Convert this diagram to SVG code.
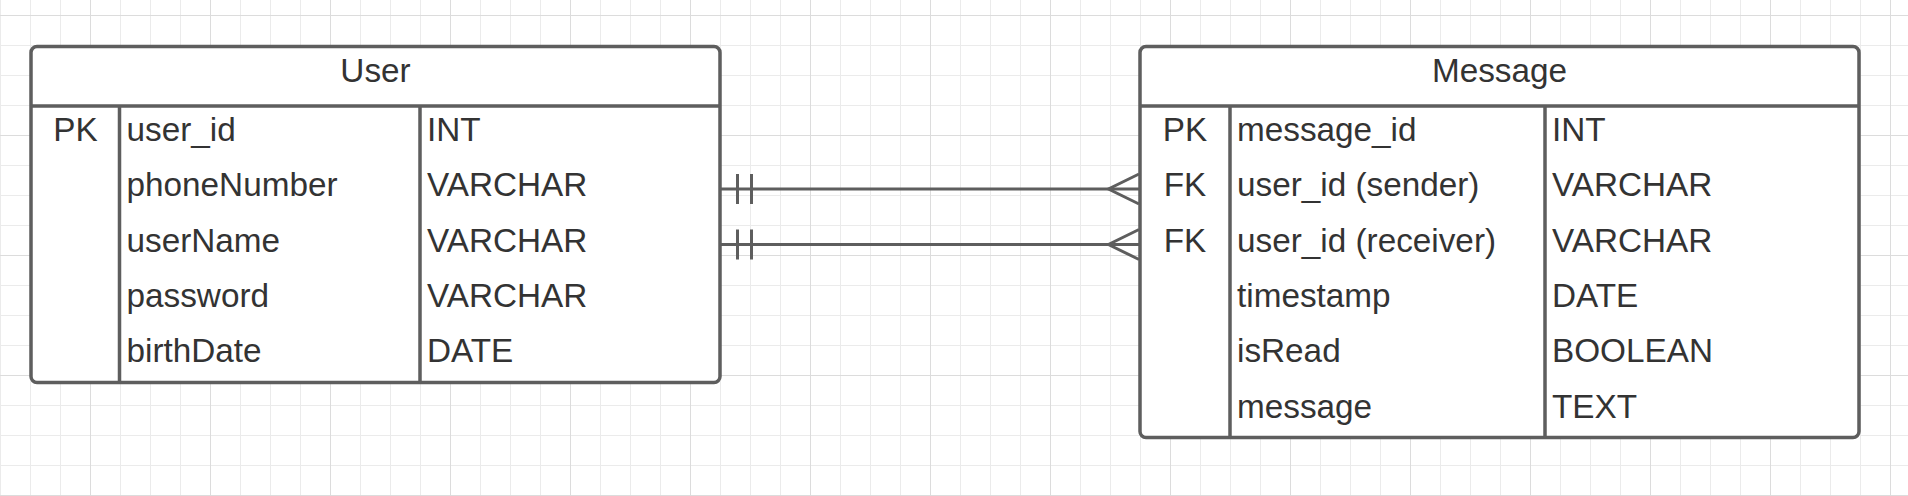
<svg xmlns="http://www.w3.org/2000/svg" width="1908" height="496" viewBox="0 0 1908 496">
<style>
.box{fill:#ffffff;stroke:#5e5e5e;stroke-width:3.5}
.div{stroke:#5e5e5e;stroke-width:3.5;fill:none}
.t{font-family:"Liberation Sans",Arial,sans-serif;font-size:33.3px;fill:#333333}
.c{text-anchor:middle}
.conn{stroke:#5e5e5e;stroke-width:3;fill:none}
</style>
<defs>
<pattern id="grid" patternUnits="userSpaceOnUse" x="90" y="15" width="120" height="120">
<rect width="120" height="120" fill="#ffffff"/>
<path d="M30.5 0V120M60.5 0V120M90.5 0V120M0 30.5H120M0 60.5H120M0 90.5H120" stroke="#ebebeb" stroke-width="1"/>
<path d="M0.5 0V120M0 0.5H120" stroke="#dcdcdc" stroke-width="1"/>
</pattern>
</defs>
<rect width="1908" height="496" fill="url(#grid)"/>

<g id="connectors">
<g id="user-message-sender">
<path class="conn" d="M720 189H1139"/>
<path class="conn" d="M737.5 174V204M751.5 174V204"/>
<path class="conn" d="M1139 174L1108.5 189L1139 204"/>
</g>
<g id="user-message-receiver">
<path class="conn" d="M720 244.5H1139"/>
<path class="conn" d="M737.5 229.5V259.5M751.5 229.5V259.5"/>
<path class="conn" d="M1139 229.5L1108.5 244.5L1139 259.5"/>
</g>
</g>

<g id="User">
<rect class="box" x="31" y="46.5" width="689" height="336" rx="6"/>
<path class="div" d="M31 106H720M119.5 106V382.5M420 106V382.5"/>
<text class="t c" x="375.5" y="82">User</text>
<text class="t c" x="75.5" y="141">PK</text>
<text class="t" x="126.5" y="141">user_id</text>
<text class="t" x="427" y="141">INT</text>
<text class="t" x="126.5" y="196.3">phoneNumber</text>
<text class="t" x="427" y="196.3">VARCHAR</text>
<text class="t" x="126.5" y="251.6">userName</text>
<text class="t" x="427" y="251.6">VARCHAR</text>
<text class="t" x="126.5" y="306.9">password</text>
<text class="t" x="427" y="306.9">VARCHAR</text>
<text class="t" x="126.5" y="362.2">birthDate</text>
<text class="t" x="427" y="362.2">DATE</text>
</g>

<g id="Message">
<rect class="box" x="1140" y="46.5" width="719" height="391" rx="6"/>
<path class="div" d="M1140 106H1859M1230 106V437.5M1545 106V437.5"/>
<text class="t c" x="1499.5" y="82">Message</text>
<text class="t c" x="1185" y="141">PK</text>
<text class="t" x="1237" y="141">message_id</text>
<text class="t" x="1552" y="141">INT</text>
<text class="t c" x="1185" y="196.3">FK</text>
<text class="t" x="1237" y="196.3">user_id (sender)</text>
<text class="t" x="1552" y="196.3">VARCHAR</text>
<text class="t c" x="1185" y="251.6">FK</text>
<text class="t" x="1237" y="251.6">user_id (receiver)</text>
<text class="t" x="1552" y="251.6">VARCHAR</text>
<text class="t" x="1237" y="306.9">timestamp</text>
<text class="t" x="1552" y="306.9">DATE</text>
<text class="t" x="1237" y="362.2">isRead</text>
<text class="t" x="1552" y="362.2">BOOLEAN</text>
<text class="t" x="1237" y="417.5">message</text>
<text class="t" x="1552" y="417.5">TEXT</text>
</g>
</svg>
